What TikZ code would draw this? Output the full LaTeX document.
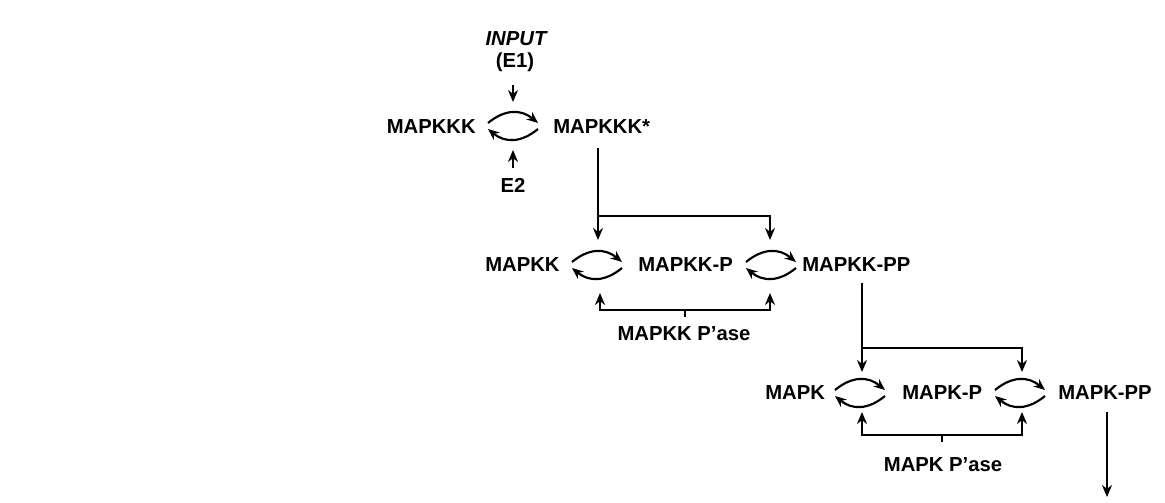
\documentclass[tikz,border=0pt]{standalone}
\usepackage{fontspec}
\setmainfont{Liberation Sans}
\usetikzlibrary{arrows.meta,calc}
\newcommand\cycarrows[1]{%
  \draw[cyc] ($(#1)+(-25,-3)$) .. controls ($(#1)+(-8,-17)$) and ($(#1)+(8,-17)$) .. ($(#1)+(25,-3)$);
  \draw[cyc] ($(#1)+(25,3)$) .. controls ($(#1)+(8,17)$) and ($(#1)+(-8,17)$) .. ($(#1)+(-25,3)$);}
\begin{document}
\begin{tikzpicture}[x=0.75pt,y=-0.75pt,
  lbl/.style={inner sep=0pt, font=\fontsize{15.2}{18}\selectfont\bfseries},
  arr/.style={line width=1.5pt, -{Stealth[length=9pt,width=7.5pt]}},
  ln/.style={line width=1.5pt},
  cyc/.style={line width=1.6pt, -{Stealth[length=8.5pt,width=7pt]}}]
\useasboundingbox (0,0) rectangle (1165,503);
% row 1
\node[lbl,font=\fontsize{15.2}{18}\selectfont\bfseries\itshape] (input) at (516,39) {INPUT};
\node[lbl] (e1) at (515,62) {(E1)};
\node[lbl,anchor=east] (mapkkk) at (476,127) {MAPKKK};
\node[lbl,anchor=west] (mapkkks) at (553,127) {MAPKKK*};
\node[lbl] (e2) at (513,185) {E2};
\coordinate (c1) at (513,126);
\cycarrows{c1}
\draw[arr] ($(c1)+(0,-41)$) -- ($(c1)+(0,-24)$);
\draw[arr] ($(c1)+(0,42)$) -- ($(c1)+(0,24)$);
% row 2
\node[lbl,anchor=west] (mapkk) at (485,265) {MAPKK};
\node[lbl,anchor=west] (mapkkp) at (638,265) {MAPKK-P};
\node[lbl,anchor=west] (mapkkpp) at (802,265) {MAPKK-PP};
\node[lbl] (kkpase) at (684,334) {MAPKK P'ase};
\coordinate (c2a) at (597,265);
\coordinate (c2b) at (771,265);
\cycarrows{c2a}
\cycarrows{c2b}
\coordinate (k1) at (598,148);
\coordinate (k1t) at (598,240);
\coordinate (k1b) at (598,216);
\coordinate (k2t) at (770,240);
\draw[arr] (k1) -- (k1t);
\draw[arr] (k1b) -| (k2t);
\coordinate (p1) at (685,310);
\coordinate (p1t) at (685,317);
\coordinate (p1a) at (600,293);
\coordinate (p1b) at (770,293);
\draw[arr] (p1) -| (p1a);
\draw[arr] (p1) -| (p1b);
\draw[ln] (p1) -- (p1t);
% row 3
\node[lbl,anchor=west] (mapk) at (765,393) {MAPK};
\node[lbl,anchor=west] (mapkp) at (902,393) {MAPK-P};
\node[lbl,anchor=west] (mapkpp) at (1058,393) {MAPK-PP};
\node[lbl] (kpase) at (943,465) {MAPK P'ase};
\coordinate (c3a) at (860,393);
\coordinate (c3b) at (1020,393);
\cycarrows{c3a}
\cycarrows{c3b}
\coordinate (m1) at (862,283);
\coordinate (m1t) at (862,372);
\coordinate (m1b) at (862,348);
\coordinate (m2t) at (1022,372);
\draw[arr] (m1) -- (m1t);
\draw[arr] (m1b) -| (m2t);
\coordinate (q1) at (942,435);
\coordinate (q1t) at (942,442);
\coordinate (q1a) at (862,412);
\coordinate (q1b) at (1022,412);
\draw[arr] (q1) -| (q1a);
\draw[arr] (q1) -| (q1b);
\draw[ln] (q1) -- (q1t);
% output
\coordinate (o1) at (1107,412);
\coordinate (o2) at (1107,497);
\draw[arr] (o1) -- (o2);
\end{tikzpicture}
\end{document}
